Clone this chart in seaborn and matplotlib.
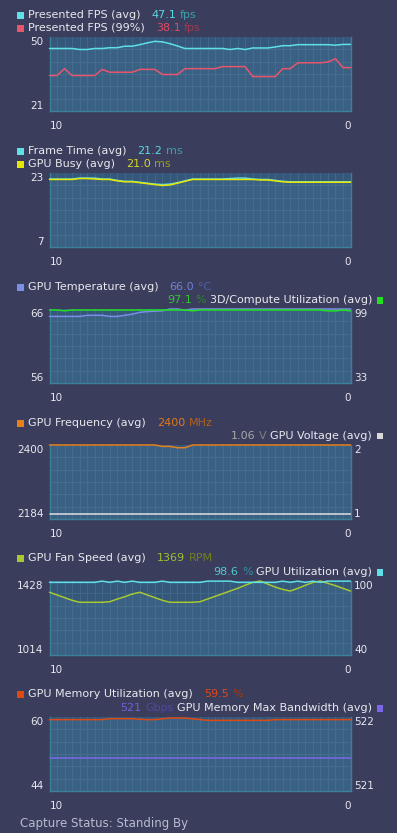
import matplotlib
matplotlib.use("Agg")
import matplotlib.pyplot as plt
from matplotlib.patches import Rectangle
import numpy as np
import seaborn as sns

# time axis (seconds ago), sampled every 0.25 s
seconds_ago = [10.0, 9.75, 9.5, 9.25, 9.0, 8.75, 8.5, 8.25, 8.0, 7.75, 7.5, 7.25, 7.0, 6.75,
               6.5, 6.25, 6.0, 5.75, 5.5, 5.25, 5.0, 4.75, 4.5, 4.25, 4.0, 3.75, 3.5, 3.25,
               3.0, 2.75, 2.5, 2.25, 2.0, 1.75, 1.5, 1.25, 1.0, 0.75, 0.5, 0.25, 0.0]

fps_avg = [45.5, 45.5, 45.5, 45.5, 45.1, 45.1, 45.5, 45.5, 45.8, 45.8, 46.4, 46.4, 47.0, 47.7,
           48.3, 48.1, 47.4, 46.5, 45.5, 45.5, 45.5, 45.5, 45.5, 45.5, 45.1, 45.5, 45.1, 45.7,
           45.7, 45.7, 46.1, 46.6, 46.6, 47.0, 47.0, 47.0, 47.0, 47.0, 46.8, 47.1, 47.1]
fps_99 = [34.9, 34.9, 37.6, 34.9, 34.9, 34.9, 34.9, 37.3, 36.2, 36.2, 36.2, 36.2, 37.3, 37.3,
          37.3, 35.3, 35.3, 35.3, 37.6, 37.6, 37.6, 37.6, 37.6, 38.4, 38.4, 38.4, 38.4, 34.5,
          34.5, 34.5, 34.5, 37.6, 37.6, 39.9, 39.9, 39.9, 39.9, 40.2, 41.5, 38.0, 38.0]

frame_time = [21.7, 21.7, 21.7, 21.7, 21.9, 21.9, 21.9, 21.7, 21.7, 21.4, 21.2, 21.2, 21.0, 20.8,
              20.6, 20.5, 20.6, 20.9, 21.3, 21.7, 21.7, 21.7, 21.7, 21.7, 21.8, 21.9, 21.9, 21.7,
              21.6, 21.6, 21.4, 21.2, 21.1, 21.1, 21.1, 21.1, 21.1, 21.1, 21.1, 21.1, 21.1]
gpu_busy = [21.6, 21.6, 21.6, 21.6, 21.8, 21.8, 21.7, 21.6, 21.6, 21.3, 21.1, 21.1, 20.9, 20.7,
            20.5, 20.3, 20.4, 20.8, 21.2, 21.6, 21.6, 21.6, 21.6, 21.6, 21.6, 21.6, 21.6, 21.6,
            21.5, 21.5, 21.3, 21.1, 21.0, 21.0, 21.0, 21.0, 21.0, 21.0, 21.0, 21.0, 21.0]

gpu_temp = [65.0, 65.0, 65.0, 65.0, 65.0, 65.15, 65.15, 65.15, 65.0, 65.0, 65.15, 65.3, 65.55, 65.65,
            65.7, 65.75, 66.0, 66.0, 65.85, 66.0, 66.0, 66.0, 66.0, 66.0, 66.0, 66.0, 66.0, 66.0,
            66.0, 66.0, 66.0, 66.0, 66.0, 66.0, 66.0, 66.0, 66.0, 66.0, 66.0, 66.0, 66.0]
util_3d = [98.1, 98.1, 97.4, 98.1, 98.1, 98.1, 98.1, 98.1, 98.1, 98.1, 98.1, 98.1, 98.1, 98.1,
           98.1, 98.1, 98.1, 98.1, 98.1, 97.4, 98.1, 98.1, 98.1, 98.1, 98.1, 98.1, 98.1, 98.1,
           98.1, 98.1, 98.1, 98.1, 98.1, 98.1, 98.1, 98.1, 98.1, 97.3, 97.3, 98.1, 97.3]

gpu_freq = [2400] * 15 + [2396, 2396, 2392, 2392] + [2400] * 22
gpu_volt = [1.07] * 41

fan_rpm = [1365, 1350, 1335, 1320, 1309, 1309, 1309, 1309, 1312, 1327, 1340, 1355, 1365, 1350,
           1335, 1320, 1309, 1309, 1309, 1309, 1312, 1327, 1342, 1357, 1372, 1387, 1404, 1420,
           1428, 1411, 1394, 1381, 1372, 1387, 1404, 1420, 1428, 1415, 1402, 1387, 1372]
gpu_util = [98.9, 98.9, 98.9, 98.9, 98.9, 98.9, 98.9, 99.9, 98.9, 99.9, 98.9, 99.9, 98.9, 98.9,
            98.9, 99.9, 98.9, 98.9, 98.9, 98.9, 98.9, 99.9, 99.9, 99.9, 99.9, 98.9, 98.9, 98.9,
            98.9, 98.9, 98.9, 99.9, 98.9, 99.9, 98.9, 99.9, 98.9, 99.9, 99.9, 99.9, 99.9]

mem_util = [59.43] * 8 + [59.64] * 4 + [59.5, 59.43, 59.43, 59.6, 59.78, 59.78, 59.78, 59.6, 59.45] \
    + [59.28] * 9 + [59.43] * 11
mem_bw = [521.45] * 41

W, H = 397, 833
BG = "#3b3d5d"
PLOT_BG = "#34577a"
GRID = "#3f6888"
EDGE = "#3d8096"
TXT = "#e8e8ee"
LW = 1.1


def fx(px):
    return px / W


def fy(py):
    return 1 - py / H


sns.set_style("dark")
plt.rcParams["font.family"] = ["DejaVu Sans"]
fig = plt.figure(figsize=(W / 100, H / 100), dpi=100, facecolor=BG)


def legend_row(yc, label, value, unit, sq, vcol, ucol, right=False):
    if not right:
        fig.add_artist(Rectangle((fx(17), fy(yc + 3.5)), 6.5 / W, 6.5 / H,
                                 transform=fig.transFigure, color=sq, lw=0))
        t = fig.text(fx(28), fy(yc), label, color=TXT, fontsize=8, va="center")
        v = fig.axes[0].annotate(value, xy=(1, 0), xycoords=t, xytext=(8, 0),
                                 textcoords="offset points", color=vcol, fontsize=8, va="bottom")
        fig.axes[0].annotate(unit, xy=(1, 0), xycoords=v, xytext=(2.5, 0),
                             textcoords="offset points", color=ucol, fontsize=8, va="bottom")
    else:
        fig.add_artist(Rectangle((fx(376.5), fy(yc + 3.5)), 6.5 / W, 6.5 / H,
                                 transform=fig.transFigure, color=sq, lw=0))
        t = fig.text(fx(372), fy(yc), label, color=TXT, fontsize=8, va="center", ha="right")
        u = fig.axes[0].annotate(unit, xy=(0, 0), xycoords=t, xytext=(-2.5, 0),
                                 textcoords="offset points", color=ucol, fontsize=8,
                                 va="bottom", ha="right")
        fig.axes[0].annotate(value, xy=(0, 0), xycoords=u, xytext=(-2.5, 0),
                             textcoords="offset points", color=vcol, fontsize=8,
                             va="bottom", ha="right")


def panel(top, series, ylims, colors, right=None):
    ax = fig.add_axes([fx(49.5), fy(top + 74), 301 / W, 74 / H])
    ax.set_facecolor(PLOT_BG)
    lo, hi = ylims
    ax.fill_between(seconds_ago, lo, series[0], color="#4d7f9f", alpha=0.25, lw=0)
    for s, c in zip(series, colors):
        sns.lineplot(x=seconds_ago, y=s, ax=ax, color=c, lw=LW, clip_on=False, zorder=5)
    ax.set_xlim(10, 0)
    ax.set_ylim(lo, hi)
    ax.set_xticks([10, 0])
    ax.set_xticklabels(["10", "0"])
    ax.set_xticks(seconds_ago, minor=True)
    ax.set_yticks([lo, hi])
    ax.set_yticklabels([str(lo), str(hi)])
    ax.set_yticks(np.linspace(lo, hi, 7), minor=True)
    ax.grid(False)
    ax.grid(which="minor", color=GRID, lw=0.8)
    ax.tick_params(which="both", length=0, colors=TXT, labelsize=7.5)
    ax.tick_params(axis="x", pad=7)
    ax.tick_params(axis="y", pad=4.5)
    xl = ax.get_xticklabels()
    xl[0].set_ha("left")
    xl[1].set_ha("right")
    yl = ax.get_yticklabels()
    yl[0].set_va("bottom")
    yl[1].set_va("top")
    for side in ["left", "bottom", "right"]:
        ax.spines[side].set_color(EDGE)
        ax.spines[side].set_linewidth(1)
    ax.spines["top"].set_visible(False)
    ax.set_xlabel("")
    ax.set_ylabel("")
    if right is not None:
        rs, rlims, rc = right
        ax2 = ax.twinx()
        sns.lineplot(x=seconds_ago, y=rs, ax=ax2, color=rc, lw=LW, clip_on=False)
        ax2.set_ylim(*rlims)
        ax2.set_yticks(list(rlims))
        ax2.set_yticklabels([str(r) for r in rlims])
        ax2.tick_params(length=0, colors=TXT, labelsize=7.5, pad=2.5)
        ry = ax2.get_yticklabels()
        ry[0].set_va("bottom")
        ry[1].set_va("top")
        ax2.grid(False)
        for side in ["left", "bottom", "top"]:
            ax2.spines[side].set_visible(False)
        ax2.spines["right"].set_color(EDGE)
        ax2.set_ylabel("")
    return ax


panel(37, [fps_avg, fps_99], (21, 50), ["#5fe0e8", "#e8566e"])
panel(173, [frame_time, gpu_busy], (7, 23), ["#5fe0e8", "#e6e600"])
panel(309, [gpu_temp], (56, 66), ["#7b8fe6"], right=(util_3d, (33, 99), "#22e022"))
panel(445, [gpu_freq], (2184, 2400), ["#e8801a"], right=(gpu_volt, (1, 2), "#e0e0e0"))
panel(581, [fan_rpm], (1014, 1428), ["#a8c832"], right=(gpu_util, (40, 100), "#5fe0e8"))
panel(717, [mem_util], (44, 60), ["#e04a12"], right=(mem_bw, (521, 522), "#7a68e8"))

legend_row(15, "Presented FPS (avg)", "47.1", "fps", "#5fe0e8", "#5ad8e0", "#3d9ea8")
legend_row(28, "Presented FPS (99%)", "38.1", "fps", "#e8566e", "#e04a64", "#a03850")
legend_row(151, "Frame Time (avg)", "21.2", "ms", "#5fe0e8", "#5ad8e0", "#3d9ea8")
legend_row(164, "GPU Busy (avg)", "21.0", "ms", "#e6e600", "#d8d820", "#9c9c20")
legend_row(287, "GPU Temperature (avg)", "66.0", "°C", "#7b8fe6", "#7080d8", "#5060a8")
legend_row(300, "3D/Compute Utilization (avg)", "97.1", "%", "#22e022", "#30c830", "#209020",
           right=True)
legend_row(423, "GPU Frequency (avg)", "2400", "MHz", "#e8801a", "#e07818", "#b06018")
legend_row(436, "GPU Voltage (avg)", "1.06", "V", "#d8d8d8", "#a8a8a8", "#808080", right=True)
legend_row(558, "GPU Fan Speed (avg)", "1369", "RPM", "#a8c832", "#a0c030", "#708020")
legend_row(572, "GPU Utilization (avg)", "98.6", "%", "#5fe0e8", "#50c8d0", "#3090a0", right=True)
legend_row(694, "GPU Memory Utilization (avg)", "59.5", "%", "#e04a12", "#e04818", "#a03818")
legend_row(708, "GPU Memory Max Bandwidth (avg)", "521", "Gbps", "#7a68e8", "#7060d8", "#5048a0",
           right=True)

fig.text(fx(20), fy(823), "Capture Status: Standing By", color="#b8bccf", fontsize=8.5, va="center")

fig.savefig("out.png", dpi=100, facecolor=BG)
